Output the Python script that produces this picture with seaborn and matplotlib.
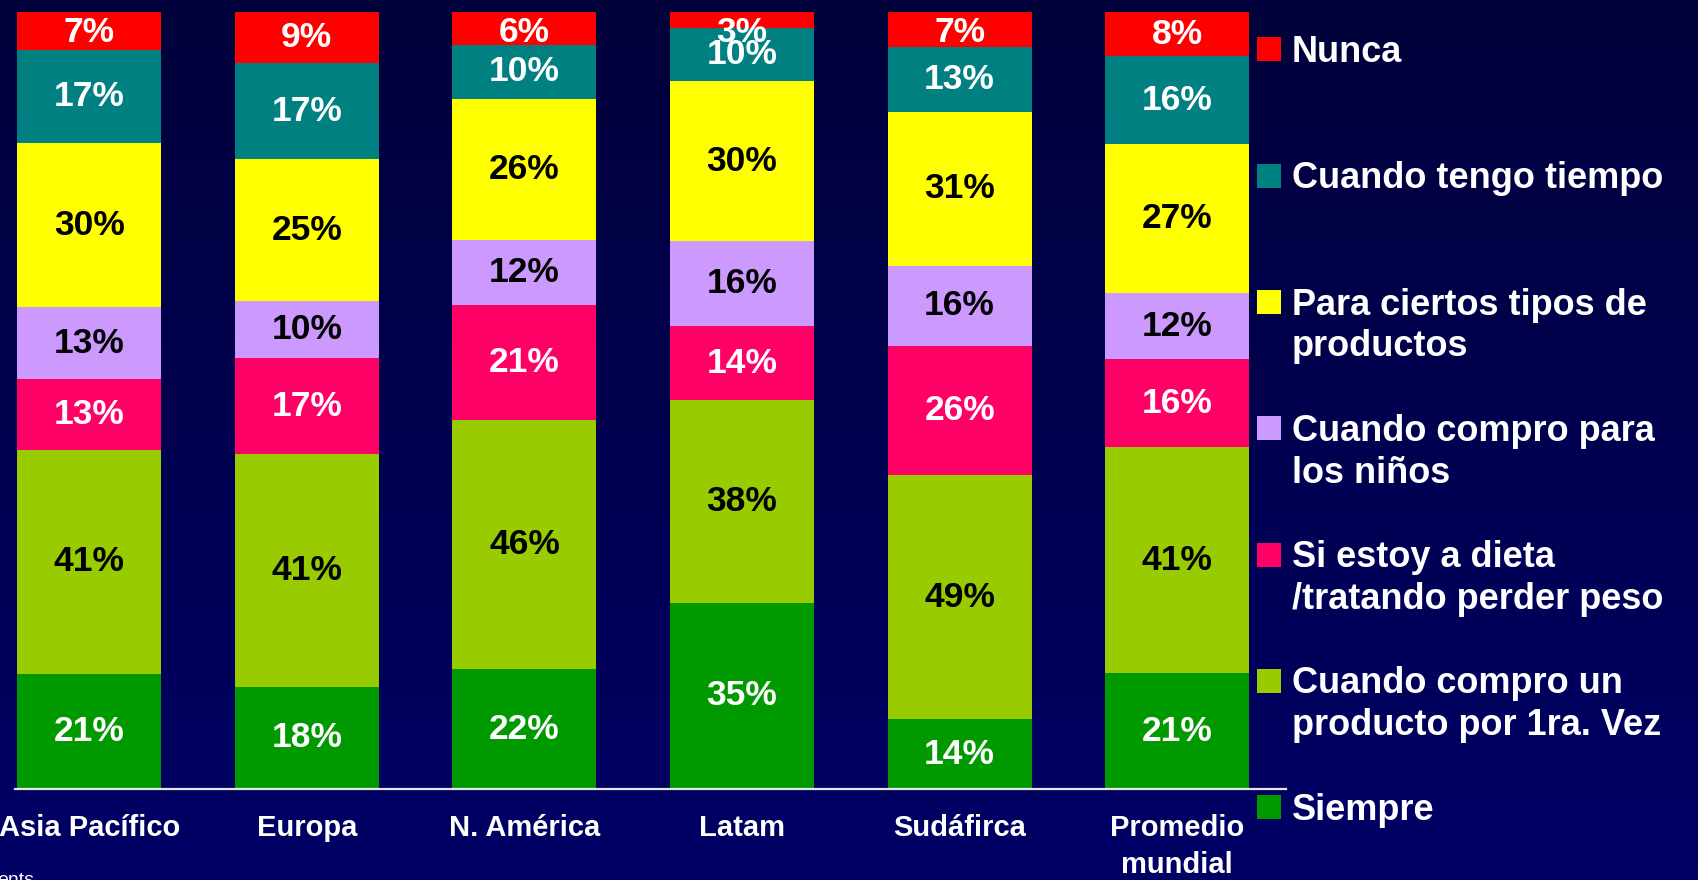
import numpy as np
import pandas as pd
import matplotlib
matplotlib.use("Agg")
import matplotlib.pyplot as plt
from matplotlib.colors import LinearSegmentedColormap
from matplotlib.patches import Rectangle
import seaborn as sns

# Regions (x-axis categories)
regions = ["Asia Pacífico", "Europa", "N. América", "Latam", "Sudáfirca", "Promedio\nmundial"]

# Answer shares per region (%), bottom of the stack first
siempre      = [21, 18, 22, 35, 14, 21]
primera_vez  = [41, 41, 46, 38, 49, 41]
dieta        = [13, 17, 21, 14, 26, 16]
ninos        = [13, 10, 12, 16, 16, 12]
ciertos      = [30, 25, 26, 30, 31, 27]
tiempo       = [17, 17, 10, 10, 13, 16]
nunca        = [7, 9, 6, 3, 7, 8]

series_labels = [
    "Siempre",
    "Cuando compro un\nproducto por 1ra. Vez",
    "Si estoy a dieta\n/tratando perder peso",
    "Cuando compro para\nlos niños",
    "Para ciertos tipos de\nproductos",
    "Cuando tengo tiempo",
    "Nunca",
]
series_colors = ["#009900", "#99CC00", "#FF0066", "#CC99FF", "#FFFF00", "#008080", "#FF0000"]
label_colors = ["white", "black", "white", "black", "black", "white", "white"]

series_values = [siempre, primera_vez, dieta, ninos, ciertos, tiempo, nunca]

sns.set_theme(style="white")
plt.rcParams["font.family"] = ["Liberation Sans", "DejaVu Sans"]
plt.rcParams["font.weight"] = "bold"

W, H, DPI = 1699, 880, 100
fig = plt.figure(figsize=(W / DPI, H / DPI), dpi=DPI)

# Navy gradient background
bg = fig.add_axes([0, 0, 1, 1], zorder=-10)
cmap = LinearSegmentedColormap.from_list("navy", ["#00003A", "#000066"])
bg.imshow(np.linspace(0, 1, 256).reshape(-1, 1), aspect="auto", cmap=cmap,
          extent=[0, 1, 0, 1], origin="upper")
bg.set_axis_off()

# Plot area
ax_left, ax_right, ax_bottom, ax_top = 15, 1286, 91, 868
ax = fig.add_axes([ax_left / W, ax_bottom / H, (ax_right - ax_left) / W, (ax_top - ax_bottom) / H])
ax.set_facecolor("none")

# Normalise each region to 100 % and stack
vals = np.array(series_values, dtype=float)
shares = vals / vals.sum(axis=0)
tops = np.cumsum(shares, axis=0)
bottoms = tops - shares

df = pd.DataFrame({"region": regions})
for i in reversed(range(len(series_labels))):
    sns.barplot(x=df["region"], y=tops[i], order=regions, color=series_colors[i],
                saturation=1, width=0.662, linewidth=0, ax=ax)

# Value labels centred in each segment
y_cap = 1 - 20 / (ax_top - ax_bottom)
for i in range(len(series_labels)):
    for j in range(len(regions)):
        yc = min((tops[i, j] + bottoms[i, j]) / 2, y_cap)
        ax.text(j, yc, f"{series_values[i][j]}%", ha="center", va="center",
                fontsize=25.5, fontweight="bold", color=label_colors[i])

spacing = (ax_right - 198) / 5.0
ax.set_xlim(-0.5 + (ax_left - (198 - spacing)) / spacing, 5.5)
ax.set_ylim(0, 1)
ax.set_xlabel("")
ax.set_ylabel("")
ax.set_yticks([])
for s in ["top", "right", "left"]:
    ax.spines[s].set_visible(False)
ax.spines["bottom"].set_color("#E6E6E6")
ax.spines["bottom"].set_linewidth(1.6)

ax.set_xticks(range(len(regions)))
ax.set_xticklabels(regions, fontsize=21, fontweight="bold", color="white", linespacing=1.42)
ax.set_xticks(np.arange(0.5, len(regions), 1.0), minor=True)
ax.tick_params(axis="x", which="major", length=0, pad=18)
ax.tick_params(axis="x", which="minor", length=7.5, width=1.6, color="#E6E6E6", direction="out")

# Legend drawn to the right of the bars, top entry first
sq = 24
x_sq, x_txt = 1257, 1292
for k, i in enumerate(reversed(range(len(series_labels)))):
    yc = 49.5 + 126.25 * k
    fig.patches.append(Rectangle(((x_sq) / W, 1 - (yc + sq / 2) / H), sq / W, sq / H,
                                 transform=fig.transFigure, facecolor=series_colors[i],
                                 edgecolor="none"))
    for n, line in enumerate(series_labels[i].split("\n")):
        base = yc + 12.5 + 42 * n
        fig.text(x_txt / W, 1 - base / H, line, ha="left", va="baseline",
                 fontsize=26, fontweight="bold", color="white")

# Footnote at the lower edge
fig.text(-3 / W, -5 / H, "ents", ha="left", va="baseline", fontsize=14,
         fontweight="normal", color="white")

fig.savefig("out.png", dpi=DPI, facecolor="#000050")
